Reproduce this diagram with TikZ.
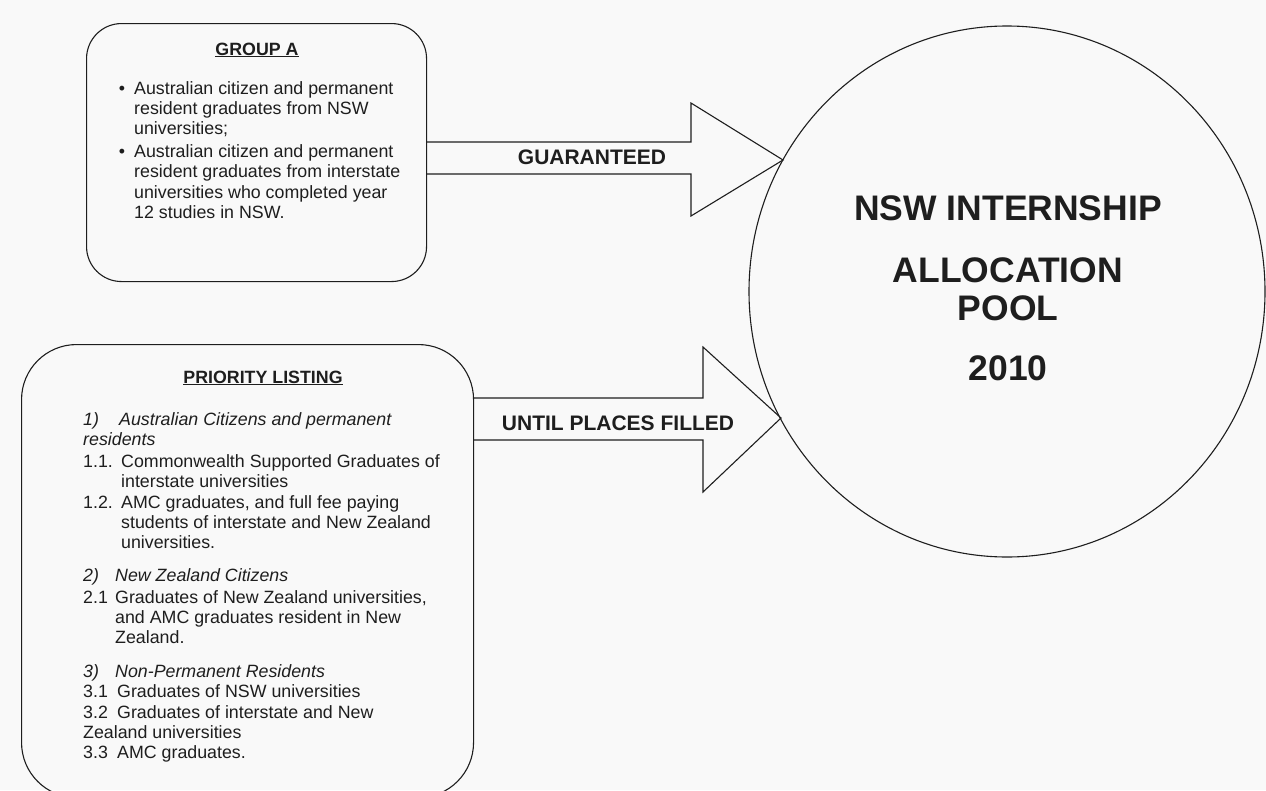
\documentclass[tikz,border=0pt]{standalone}
\usepackage{fontspec}
\setmainfont{Liberation Sans}
\usetikzlibrary{shapes.geometric}
\definecolor{paper}{RGB}{249,249,249}
\definecolor{ink}{RGB}{30,30,30}
\tikzset{
  x=1pt, y=-1pt,
  outline/.style={draw=ink, line width=1.1pt},
  body/.style={anchor=base west, inner sep=0pt, text=ink, font=\fontsize{17.8}{20.5}\selectfont},
  ttl/.style={anchor=base, inner sep=0pt, text=ink, font=\fontsize{17.8}{20.5}\selectfont\bfseries},
  arrlabel/.style={anchor=base, inner sep=0pt, text=ink, font=\fontsize{21}{24}\selectfont\bfseries},
  pooltext/.style={anchor=base, inner sep=0pt, text=ink, font=\fontsize{35.5}{40}\selectfont\bfseries},
}
\newcommand{\numlab}[2]{\makebox[#1][l]{#2}}
\begin{document}
\begin{tikzpicture}
\useasboundingbox (0,0) rectangle (1266,790);
\fill[paper] (0,0) rectangle (1266,790);

% Group A box
\node[outline, rounded corners=35pt, minimum width=340pt, minimum height=258pt, anchor=north west, inner sep=0pt] (groupA) at (86,23) {};
\node[ttl] (gaT) at (257,55) {\underline{GROUP A}};
\node[body, anchor=base] (gab1) at (122,94) {•};
\node[body] (ga1) at (134,94) {Australian citizen and permanent};
\node[body] (ga2) at (134,114) {resident graduates from NSW};
\node[body] (ga3) at (134,134) {universities;};
\node[body, anchor=base] (gab2) at (122,157) {•};
\node[body] (ga4) at (134,157) {Australian citizen and permanent};
\node[body] (ga5) at (134,177) {resident graduates from interstate};
\node[body] (ga6) at (134,198) {universities who completed year};
\node[body] (ga7) at (134,218) {12 studies in NSW.};

% Priority listing box
\begin{scope}
\clip (0,0) rectangle (1266,790);
\node[outline, rounded corners=55pt, minimum width=452pt, minimum height=453pt, anchor=north west, inner sep=0pt] (prio) at (21,344) {};
\end{scope}
\node[ttl] (prT) at (263,383) {\underline{PRIORITY LISTING}};
\node[body] (p1) at (83,425) {\itshape\numlab{36pt}{1)}Australian Citizens and permanent};
\node[body] (p2) at (83,445) {\itshape residents};
\node[body] (p3) at (83,467) {\numlab{38pt}{1.1.}Commonwealth Supported Graduates of};
\node[body] (p4) at (121,487) {interstate universities};
\node[body] (p5) at (83,508) {\numlab{38pt}{1.2.}AMC graduates, and full fee paying};
\node[body] (p6) at (121,528) {students of interstate and New Zealand};
\node[body] (p7) at (121,548) {universities.};
\node[body] (p8) at (83,581) {\itshape\numlab{32pt}{2)}New Zealand Citizens};
\node[body] (p9) at (83,603) {\numlab{32pt}{2.1}Graduates of New Zealand universities,};
\node[body] (p10) at (115,623) {and AMC graduates resident in New};
\node[body] (p11) at (115,643) {Zealand.};
\node[body] (p12) at (83,677) {\itshape\numlab{32pt}{3)}Non-Permanent Residents};
\node[body] (p13) at (83,697) {\numlab{34pt}{3.1}Graduates of NSW universities};
\node[body] (p14) at (83,718) {\numlab{34pt}{3.2}Graduates of interstate and New};
\node[body] (p15) at (83,738) {Zealand universities};
\node[body] (p16) at (83,758) {\numlab{34pt}{3.3}AMC graduates.};

% Pool ellipse
\node[outline, ellipse, minimum width=516pt, minimum height=531pt, inner sep=0pt] (pool) at (1007,291.5) {};
\node[pooltext] (pl1) at (1008,220) {NSW INTERNSHIP};
\node[pooltext] (pl2) at (1008,282) {ALLOCATION};
\node[pooltext] (pl3) at (1008,320) {POOL};
\node[pooltext] (pl4) at (1008,380) {2010};

% Block arrows
\coordinate (tipA) at (783,160);
\coordinate (tipB) at (781,418);
\draw[outline, line join=miter] (groupA.east |- 0,142) -- (691,142) -- (691,103) -- (tipA) -- (691,216) -- (691,174) -- (groupA.east |- 0,174);
\draw[outline, line join=miter] (prio.east |- 0,398) -- (703,398) -- (703,347) -- (tipB) -- (703,492) -- (703,440) -- (prio.east |- 0,440);
\node[arrlabel] (lblA) at (592,164) {GUARANTEED};
\node[arrlabel] (lblB) at (618,430) {UNTIL PLACES FILLED};
\end{tikzpicture}
\end{document}
